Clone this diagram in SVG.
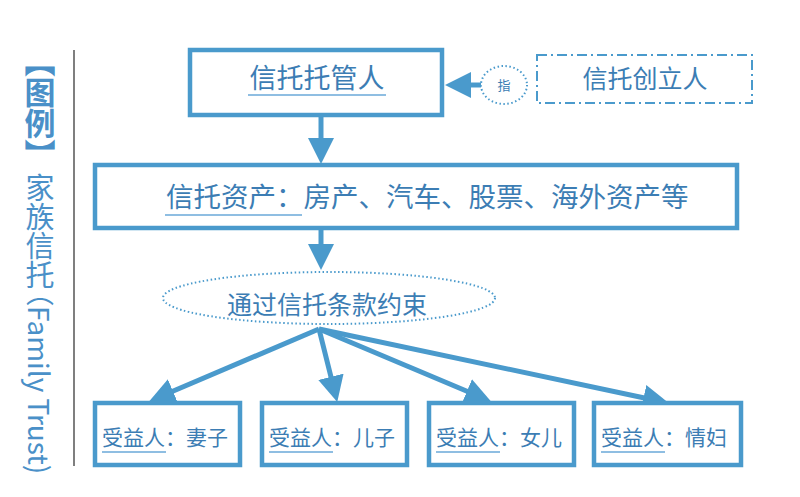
<svg xmlns="http://www.w3.org/2000/svg" width="800" height="497" viewBox="0 0 800 497">
<defs>
<style>
.box{fill:#fff;stroke:#4a9acc;stroke-width:4.5}
.dash{fill:none;stroke:#4a9acc;stroke-width:2;stroke-dasharray:10 4 2 4}
.dot{fill:#fff;stroke:#4a9acc;stroke-width:2;stroke-dasharray:1.5 2.5}
.t{font-family:"Noto Sans CJK SC","Noto Sans",sans-serif;fill:#3c7db4}
.ul{stroke:#6aa8d8;stroke-width:1.5}
.con{stroke:#4a9acc;stroke-width:5;fill:none;marker-end:url(#ah)}
.side{font-family:"Noto Sans CJK SC","Noto Sans",sans-serif;fill:#4a90c8;writing-mode:vertical-rl}
</style>
<marker id="ah" markerUnits="userSpaceOnUse" markerWidth="26" markerHeight="26" refX="12" refY="12" orient="auto" viewBox="0 0 24 24">
<path d="M0,0 L24,12 L0,24 z" fill="#4a9acc"/>
</marker>
</defs>
<rect width="800" height="497" fill="#fff"/>

<g id="legend">
<line x1="74" y1="50" x2="74" y2="466" stroke="#555" stroke-width="1.5"/>
<text class="side" x="40" y="46" font-size="31" font-weight="bold">【图例】</text>
<text class="side" x="40" y="173" font-size="29">家族信托</text>
<text class="side" x="40" y="278" font-size="28">（Family Trust)</text>
</g>

<g id="connectors">
<line class="con" x1="321" y1="117" x2="321" y2="151"/>
<line class="con" x1="321" y1="228" x2="321" y2="257"/>
<line class="con" x1="481" y1="85" x2="458" y2="85"/>
<line class="con" x1="319" y1="329" x2="161" y2="396.3"/>
<line class="con" x1="319" y1="329" x2="334.1" y2="389.4"/>
<line class="con" x1="319" y1="329" x2="478.9" y2="396.3"/>
<line class="con" x1="319" y1="329" x2="656.3" y2="400.5"/>
</g>

<g id="trustee">
<rect class="box" x="190" y="50" width="252" height="65"/>
<text class="t" x="317" y="88" font-size="27" text-anchor="middle">信托托管人</text>
<line class="ul" x1="248" y1="95" x2="386" y2="95"/>
</g>

<g id="designate">
<ellipse class="dot" cx="504" cy="85" rx="23" ry="19"/>
<text class="t" x="504" y="90" font-size="13" text-anchor="middle">指</text>
</g>

<g id="founder">
<rect class="dash" x="537" y="55" width="215" height="48"/>
<text class="t" x="645" y="88" font-size="25" text-anchor="middle">信托创立人</text>
</g>

<g id="assets">
<rect class="box" x="95" y="165" width="642" height="63"/>
<text class="t" x="166" y="207" font-size="27.5">信托资产：房产、汽车、股票、海外资产等</text>
<line class="ul" x1="165" y1="215" x2="302" y2="215"/>
</g>

<g id="terms">
<ellipse class="dot" cx="329" cy="298" rx="166" ry="26"/>
<text class="t" x="227" y="314" font-size="25">通过信托条款约束</text>
</g>

<g id="b1">
<rect class="box" x="95" y="403" width="145" height="62"/>
<text class="t" x="102" y="445" font-size="21">受益人：妻子</text>
<line class="ul" x1="102" y1="452" x2="166" y2="452"/>
</g>
<g id="b2">
<rect class="box" x="262" y="403" width="145" height="62"/>
<text class="t" x="269" y="445" font-size="21">受益人：儿子</text>
<line class="ul" x1="269" y1="452" x2="333" y2="452"/>
</g>
<g id="b3">
<rect class="box" x="429" y="403" width="145" height="62"/>
<text class="t" x="436" y="445" font-size="21">受益人：女儿</text>
<line class="ul" x1="436" y1="452" x2="500" y2="452"/>
</g>
<g id="b4">
<rect class="box" x="594" y="403" width="147" height="62"/>
<text class="t" x="601" y="445" font-size="21">受益人：情妇</text>
<line class="ul" x1="601" y1="452" x2="665" y2="452"/>
</g>
</svg>
